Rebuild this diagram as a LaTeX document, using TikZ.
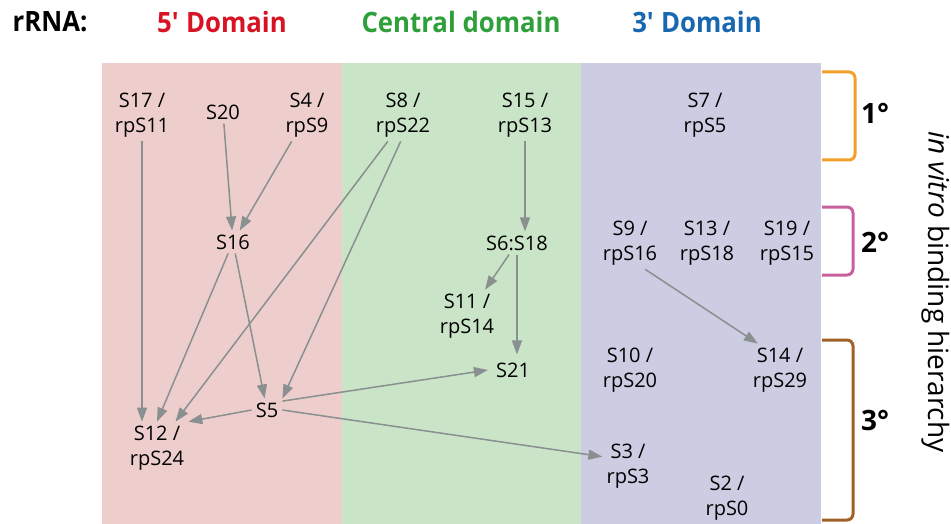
\documentclass[tikz,border=0pt]{standalone}
\usepackage{fontspec}
\setmainfont{Open Sans}
\usetikzlibrary{arrows.meta, positioning, calc}

\definecolor{pinkdom}{RGB}{238,206,205}
\definecolor{greendom}{RGB}{201,228,199}
\definecolor{bluedom}{RGB}{204,204,227}
\definecolor{redhead}{RGB}{214,20,36}
\definecolor{greenhead}{RGB}{46,160,58}
\definecolor{bluehead}{RGB}{24,104,176}
\definecolor{linkgray}{RGB}{138,143,143}
\definecolor{prim}{RGB}{242,160,40}
\definecolor{secd}{RGB}{200,96,158}
\definecolor{tert}{RGB}{160,96,40}

\tikzset{
    prot/.style={
        align=center,
        inner sep=4pt,
        font=\fontsize{20}{25}\selectfont
    },
    domhead/.style={
        font=\fontsize{28}{30}\selectfont\bfseries\addfontfeature{FakeStretch=0.92}
    },
    link/.style={
        draw=linkgray,
        line width=1.5pt,
        -{Triangle[length=14pt,width=10pt]}
    },
    level/.style={
        line width=3pt,
        rounded corners=6pt
    },
    levellabel/.style={
        font=\fontsize{28}{30}\selectfont\bfseries
    }
}

\begin{document}
\begin{tikzpicture}[x=1pt, y=-1pt]
\useasboundingbox (0,0) rectangle (951,524);

% domain panels
\fill[pinkdom] (102,63) rectangle (342,524);
\fill[greendom] (342,63) rectangle (581,524);
\fill[bluedom] (581,63) rectangle (821,524);

% header
\node[domhead] (rrna) at (50,22) {rRNA:};
\node[domhead, text=redhead] (h5) at (222,22) {5\textquotesingle{} Domain};
\node[domhead, text=greenhead] (hc) at (461,22) {Central domain};
\node[domhead, text=bluehead] (h3) at (697,22) {3\textquotesingle{} Domain};

% 5' domain proteins
\node[prot] (s17) at (142,115) {S17 /\\rpS11};
\node[prot] (s20) at (223,112) {S20};
\node[prot] (s4) at (307,115) {S4 /\\rpS9};
\node[prot] (s16) at (233,242) {S16};
\node[prot] (s5) at (267,410) {S5};
\node[prot] (s12) at (157,448) {S12 /\\rpS24};

% central domain proteins
\node[prot] (s8) at (403,115) {S8 /\\rpS22};
\node[prot] (s15) at (525,115) {S15 /\\rpS13};
\node[prot] (s618) at (517,243) {S6:S18};
\node[prot] (s11) at (467,316) {S11 /\\rpS14};
\node[prot, inner sep=8pt] (s21) at (513,370) {S21};

% 3' domain proteins
\node[prot] (s7) at (705,115) {S7 /\\rpS5};
\node[prot] (s9) at (630,243) {S9 /\\rpS16};
\node[prot] (s13) at (707,243) {S13 /\\rpS18};
\node[prot] (s19) at (787,243) {S19 /\\rpS15};
\node[prot] (s10) at (630,370) {S10 /\\rpS20};
\node[prot] (s14) at (780,370) {S14 /\\rpS29};
\node[prot] (s3) at (628,466) {S3 /\\rpS3};
\node[prot] (s2) at (727,498) {S2 /\\rpS0};

% assembly dependencies
\draw[link] (s17.south) -- (s17.south |- s12.north);
\draw[link] (s20) -- (s16);
\draw[link] (s4) -- (s16);
\draw[link] (s16) -- (s12.north);
\draw[link] (s16) -- (s5);
\draw[link] (s8.240) -- (s12.55);
\draw[link] (s8.265) -- (s5.north east);
\draw[link] (s5.west) -- (s12.north east);
\draw[link] (s5.30) -- (s21.west);
\draw[link] (s5.east) -- (s3.160);
\draw[link] (s15.south) -- (s15.south |- s618.north);
\draw[link] (s618) -- (s11);
\draw[link] (s618.south) -- (s618.south |- s21.north);
\draw[link] (s9.300) -- (s14.130);

% binding levels
\draw[level, prim] (822,72) -- (855,72) -- (855,160) -- (822,160);
\draw[level, secd] (822,207) -- (853,207) -- (853,275) -- (822,275);
\draw[level, tert] (822,340) -- (853,340) -- (853,520) -- (822,520);
\node[levellabel] (l1) at (875,113) {1°};
\node[levellabel] (l2) at (875,242) {2°};
\node[levellabel] (l3) at (875,420) {3°};
\node[rotate=-90, font=\fontsize{28}{30}\selectfont] (hier) at (936,292) {\textit{in vitro} binding hierarchy};

\end{tikzpicture}
\end{document}
